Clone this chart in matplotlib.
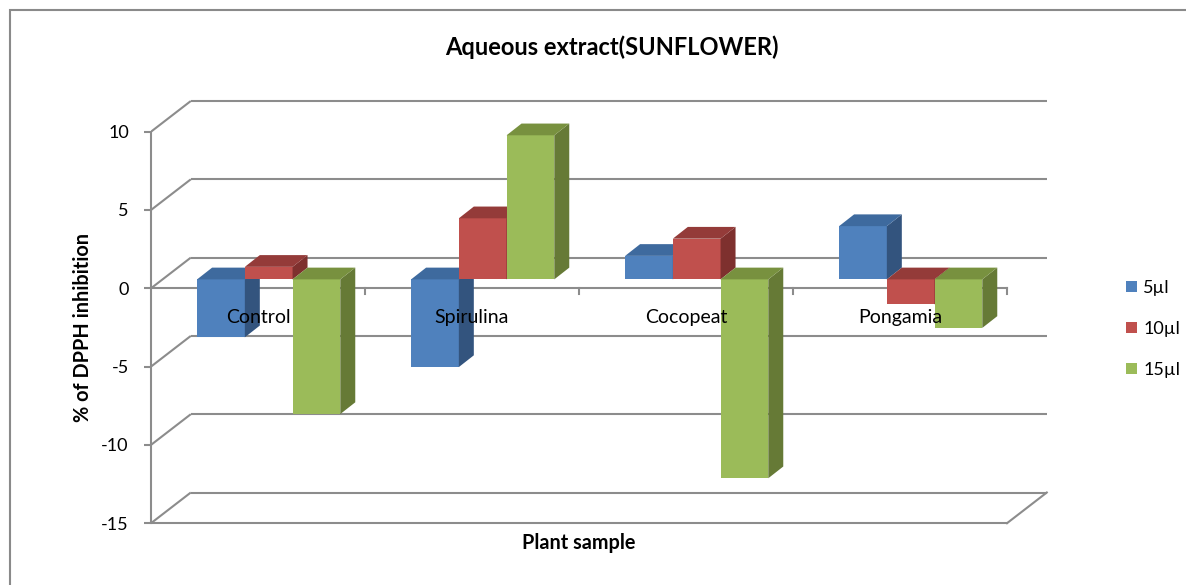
import matplotlib
matplotlib.use("Agg")
import matplotlib.pyplot as plt
from matplotlib.patches import Polygon, Rectangle

# ---- data -------------------------------------------------------------
categories = ["Control", "Spirulina", "Cocopeat", "Pongamia"]
series_labels = ["5µl", "10µl", "15µl"]
vals_5ul = [-3.7, -5.6, 1.5, 3.4]
vals_10ul = [0.8, 3.9, 2.6, -1.6]
vals_15ul = [-8.6, 9.2, -12.7, -3.1]
y_ticks = [-15, -10, -5, 0, 5, 10]

series_values = [vals_5ul, vals_10ul, vals_15ul]

# front / top / side shades for the pseudo-3D columns
face_colors = [
    ("#4F81BD", "#3E6A9E", "#33547E"),
    ("#C0504D", "#943B39", "#7E302E"),
    ("#9BBB59", "#78913F", "#667A36"),
]
grid_col = "#8C8C8C"
FONT = "Lato"
plt.rcParams["font.family"] = [FONT, "DejaVu Sans"]

# ---- figure & axes ----------------------------------------------------
W, H = 1186, 585
fig = plt.figure(figsize=(W / 100, H / 100), dpi=100)

px_per_cat = 214.0
px_per_unit = 15.66
zero_py = 288.3
left_px, right_px, top_px, bot_px = 151, 1060, 90, 535

ax = fig.add_axes([left_px / W, 1 - bot_px / H,
                   (right_px - left_px) / W, (bot_px - top_px) / H])
ax.set_xlim(0, (right_px - left_px) / px_per_cat)
ax.set_ylim((zero_py - bot_px) / px_per_unit, (zero_py - top_px) / px_per_unit)
ax.patch.set_alpha(0)

ymin, ymax = min(y_ticks), max(y_ticks)
ncat = len(categories)

# depth of the walls and of the columns (data units)
DX, DY = 0.186, 1.96
BAR_W = 0.223
BAR_OFF_X, BAR_OFF_Y = 0.05, 0.57
BAR_DX, BAR_DY = 0.07, 0.75

lw = 1.5
# side wall diagonals and back-wall gridlines
for v in y_ticks:
    ax.plot([0, DX], [v, v + DY], color=grid_col, lw=lw, zorder=1,
            solid_capstyle="butt")
    ax.plot([DX, ncat + DX], [v + DY, v + DY], color=grid_col, lw=lw,
            zorder=1, solid_capstyle="butt")
# floor front edge and right diagonal
ax.plot([0, ncat], [ymin, ymin], color=grid_col, lw=lw, zorder=1)
ax.plot([ncat, ncat + DX], [ymin, ymin + DY], color=grid_col, lw=lw, zorder=1)
# category axis at zero with tick marks between categories
ax.plot([0, ncat], [0, 0], color=grid_col, lw=lw, zorder=2)
for k in range(1, ncat + 1):
    ax.plot([k, k], [0, -6 / px_per_unit], color=grid_col, lw=lw, zorder=2)

# value axis
for s in ["top", "right", "bottom"]:
    ax.spines[s].set_visible(False)
ax.spines["left"].set_bounds(ymin, ymax)
ax.spines["left"].set_color(grid_col)
ax.spines["left"].set_linewidth(lw)
ax.set_yticks(y_ticks)
ax.set_yticklabels([str(t) for t in y_ticks])
ax.tick_params(axis="y", length=5, width=lw, color=grid_col, pad=11,
               labelsize=13, labelcolor="black")
ax.set_xticks([])

# ---- columns ----------------------------------------------------------
handles = []
for j, (vals, (c_front, c_top, c_side)) in enumerate(zip(series_values, face_colors)):
    lefts = [i + 0.5 - 1.5 * BAR_W + j * BAR_W + BAR_OFF_X for i in range(ncat)]
    bars = ax.bar(lefts, vals, width=BAR_W, bottom=BAR_OFF_Y, align="edge",
                  color=c_front, zorder=3 + j, label=series_labels[j],
                  linewidth=0)
    handles.append(bars)
    for x0, v in zip(lefts, vals):
        x1 = x0 + BAR_W
        top = BAR_OFF_Y + max(v, 0)
        bot = BAR_OFF_Y + min(v, 0)
        side = Polygon([(x1, bot), (x1, top), (x1 + BAR_DX, top + BAR_DY),
                        (x1 + BAR_DX, bot + BAR_DY)], closed=True,
                       facecolor=c_side, edgecolor="none", zorder=3 + j)
        cap = Polygon([(x0, top), (x1, top), (x1 + BAR_DX, top + BAR_DY),
                       (x0 + BAR_DX, top + BAR_DY)], closed=True,
                      facecolor=c_top, edgecolor="none", zorder=3 + j)
        ax.add_patch(side)
        ax.add_patch(cap)

# category names sit on the front plane just below the zero axis
for i, name in enumerate(categories):
    ax.text(i + 0.5, -29 / px_per_unit, name, ha="center", va="center",
            fontsize=14, zorder=10)

# ---- titles & legend --------------------------------------------------
fig.text(612 / W, 1 - 47 / H, "Aqueous extract(SUNFLOWER)", ha="center",
         va="center", fontsize=17, fontweight="bold")
fig.text(579 / W, 1 - 543 / H, "Plant sample", ha="center", va="center",
         fontsize=14.3, fontweight="bold")
fig.text(83 / W, 1 - 328 / H, "% of DPPH inhibition", ha="center",
         va="center", rotation=90, fontsize=14.3, fontweight="bold")

fig.legend(handles, series_labels, loc="center left",
           bbox_to_anchor=(1117 / W, 1 - 329 / H), frameon=False,
           fontsize=13, handlelength=0.6, handleheight=0.6,
           handletextpad=0.35, labelspacing=1.38, borderpad=0)

# chart border
fig.patches.append(Rectangle((10 / W, -0.2), 1.2, 1.2 - 10 / H,
                             transform=fig.transFigure, fill=False,
                             edgecolor="#8A8A8A", lw=1.5))

fig.savefig("out.png", dpi=100)
